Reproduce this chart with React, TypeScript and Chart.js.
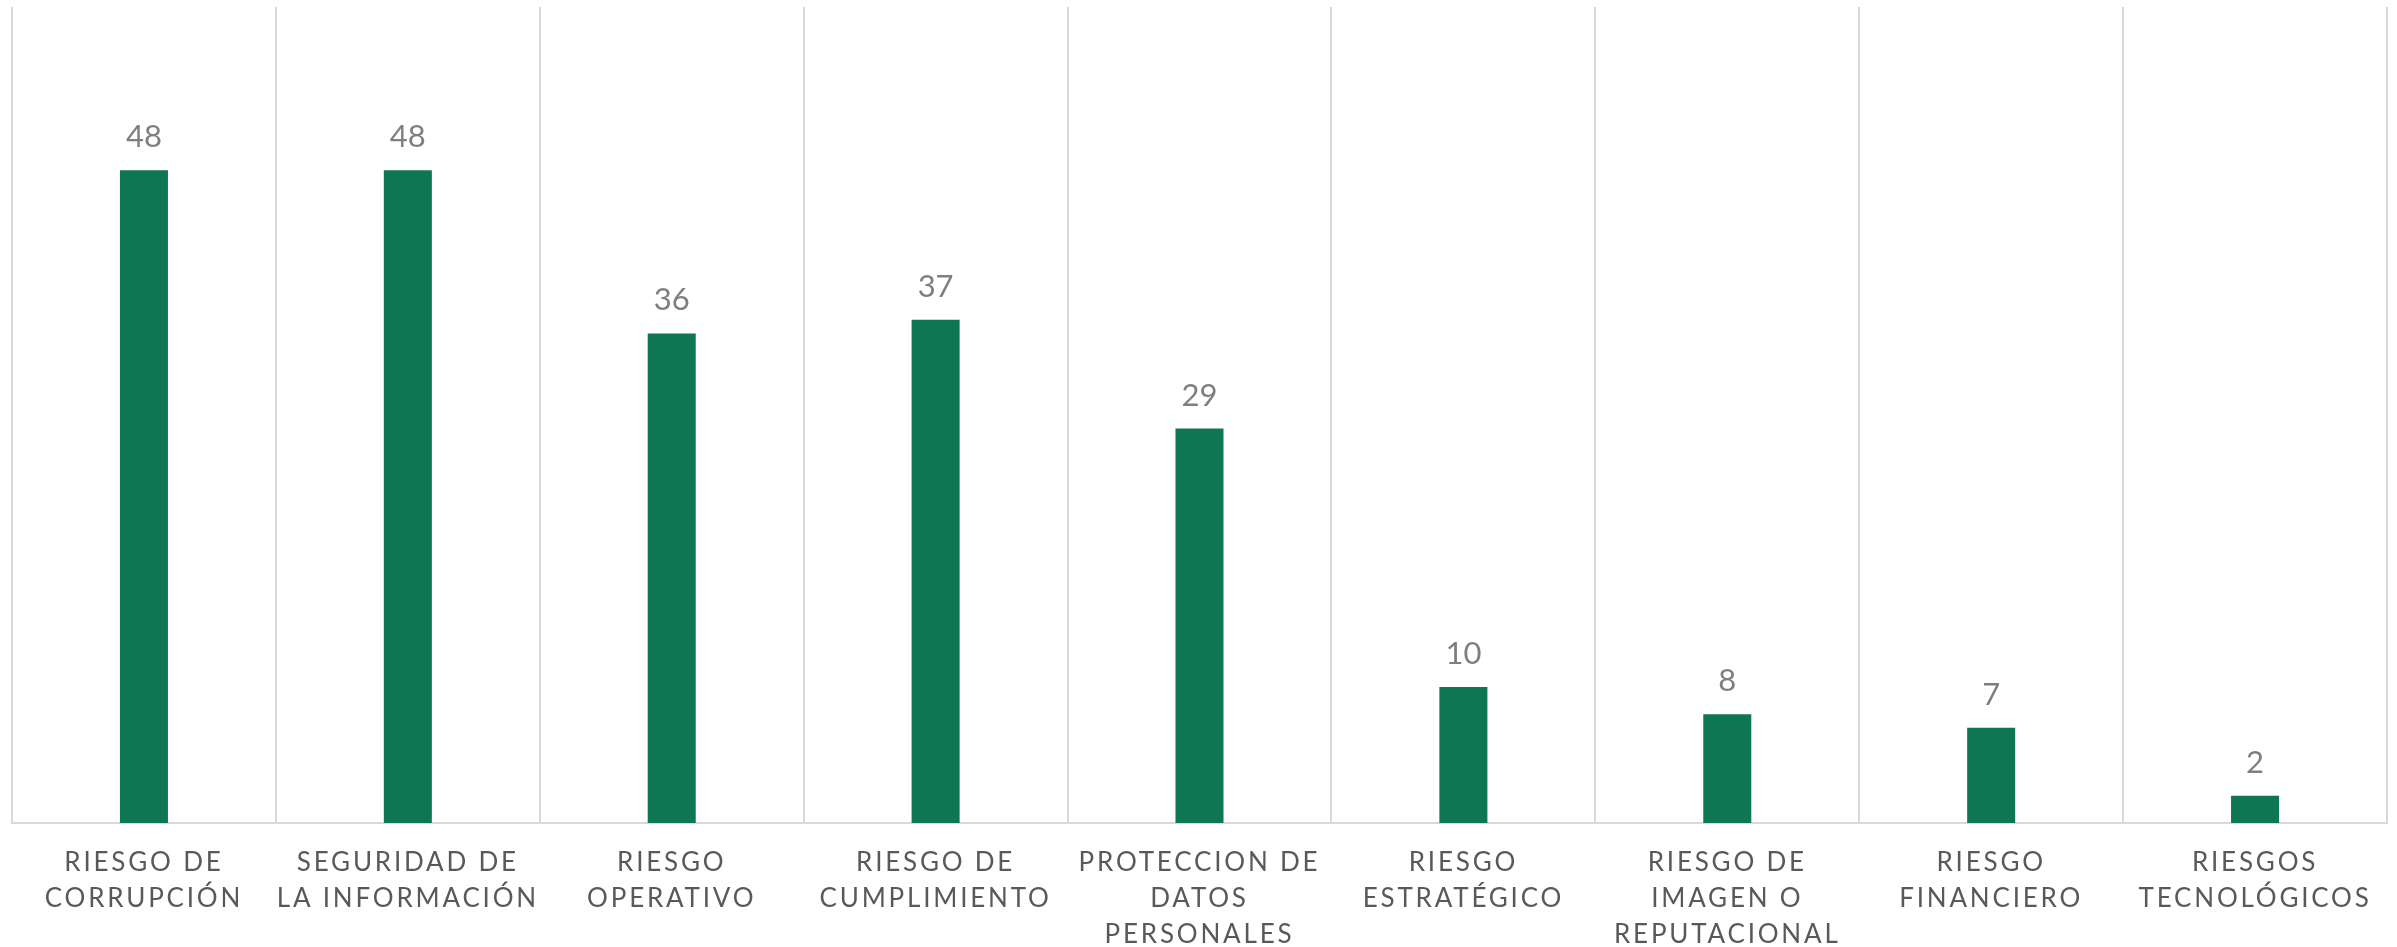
import React, { useEffect, useRef } from "react";
import { Chart, registerables } from "chart.js";

Chart.register(...registerables);

const categories: string[][] = [
  ["RIESGO DE", "CORRUPCIÓN"],
  ["SEGURIDAD DE", "LA INFORMACIÓN"],
  ["RIESGO", "OPERATIVO"],
  ["RIESGO DE", "CUMPLIMIENTO"],
  ["PROTECCION DE", "DATOS", "PERSONALES"],
  ["RIESGO", "ESTRATÉGICO"],
  ["RIESGO DE", "IMAGEN O", "REPUTACIONAL"],
  ["RIESGO", "FINANCIERO"],
  ["RIESGOS", "TECNOLÓGICOS"],
];

const values: number[] = [48, 48, 36, 37, 29, 10, 8, 7, 2];

const yMin = 0;
const yMax = 60;

const W = 2397;
const H = 947;

export default function App() {
  const ref = useRef<HTMLCanvasElement | null>(null);

  useEffect(() => {
    if (!ref.current) return;
    const spacingPlugin = {
      id: "spacing",
      beforeDraw(chart: any) {
        chart.ctx.letterSpacing = "2.8px";
      },
      afterDatasetsDraw(chart: any) {
        const ctx = chart.ctx;
        ctx.save();
        ctx.letterSpacing = "0px";
        ctx.font = "31px Lato";
        ctx.fillStyle = "#7f7f7f";
        ctx.textAlign = "center";
        ctx.textBaseline = "alphabetic";
        const meta = chart.getDatasetMeta(0);
        meta.data.forEach((bar: any, i: number) => {
          ctx.fillText(String(values[i]), bar.x, bar.y - 23);
        });
        ctx.restore();
      },
    };

    const chart = new Chart(ref.current, {
      type: "bar",
      data: {
        labels: categories,
        datasets: [
          {
            data: values,
            backgroundColor: "#0f7654",
            borderWidth: 0,
            barPercentage: 0.182,
            categoryPercentage: 1,
          },
        ],
      },
      options: {
        animation: false,
        responsive: false,
        devicePixelRatio: 1,
        layout: { padding: { left: 12, right: 10, top: 7, bottom: 0 } },
        plugins: {
          legend: { display: false },
          tooltip: { enabled: false },
        },
        scales: {
          x: {
            grid: {
              display: true,
              color: "#d9d9d9",
              lineWidth: 2,
              drawTicks: false,
              offset: true,
            },
            border: { display: true, color: "#d9d9d9", width: 2 },
            ticks: {
              color: "#595959",
              font: { family: "Lato", size: 26, lineHeight: 36 / 26 },
              padding: 22,
              maxRotation: 0,
              minRotation: 0,
              autoSkip: false,
            },
            afterFit(scale: any) {
              scale.height = H - 823;
            },
          },
          y: {
            display: false,
            min: yMin,
            max: yMax,
          },
        },
      },
      plugins: [spacingPlugin],
    });
    return () => chart.destroy();
  }, []);

  return (
    <div style={{ position: "fixed", left: 0, top: 0, width: W, height: H, background: "#ffffff" }}>
      <canvas ref={ref} width={W} height={H} style={{ width: W, height: H, display: "block" }} />
    </div>
  );
}
